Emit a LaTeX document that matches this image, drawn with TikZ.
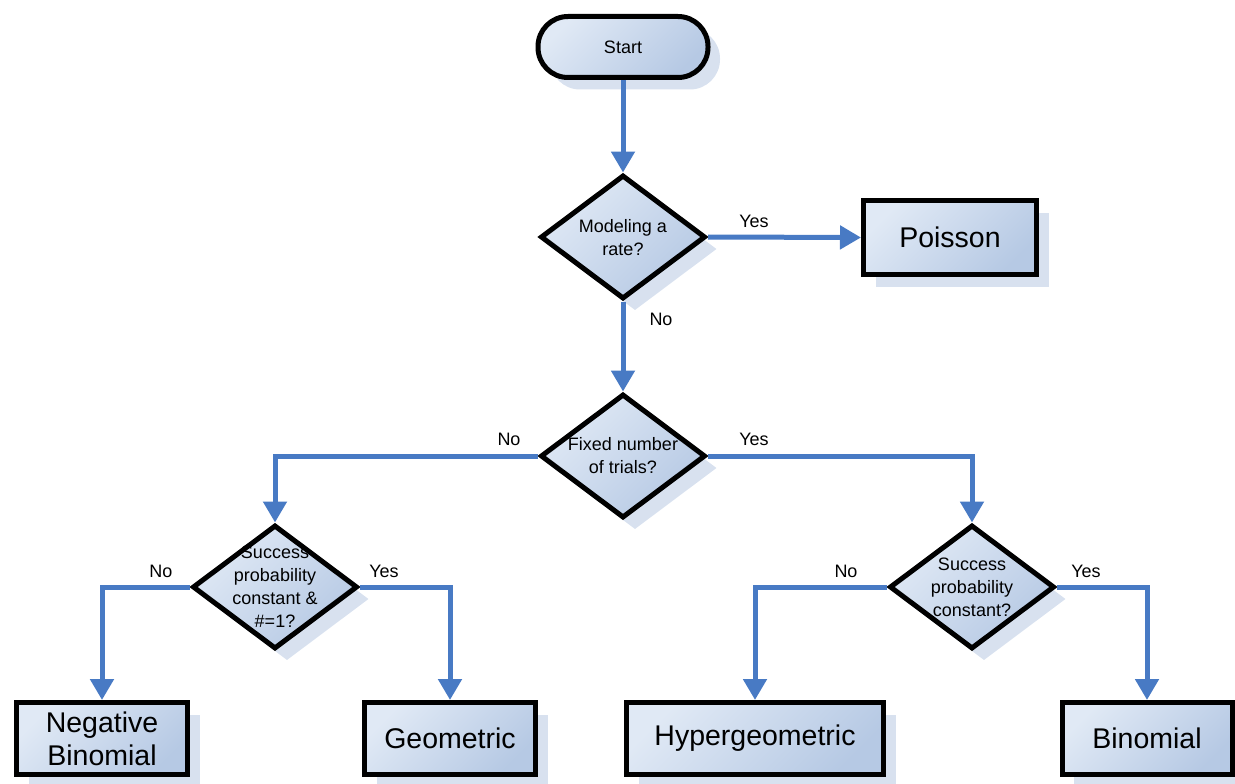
\documentclass[tikz,border=0pt]{standalone}
\usepackage{fontspec}
\setmainfont{Liberation Sans}
\usetikzlibrary{shapes.geometric,shadows,arrows.meta}
\definecolor{connblue}{RGB}{72,122,196}
\definecolor{fillA}{RGB}{224,233,245}
\definecolor{fillB}{RGB}{182,201,228}
\definecolor{shad}{RGB}{216,225,239}
\begin{document}
\begin{tikzpicture}[x=1pt,y=-1pt,
 base/.style={draw=black, line width=5pt, line join=miter, top color=fillA, bottom color=fillB, shading angle=45,
   drop shadow={shadow xshift=12pt, shadow yshift=-12pt, fill=shad, opacity=1}, inner sep=0pt},
 startbox/.style={base, rectangle, rounded corners=30pt, minimum width=170pt, minimum height=61pt, font=\fontsize{18}{20}\selectfont},
 decision/.style={base, diamond, minimum width=165pt, minimum height=124pt},
 dtext/.style={align=center, inner sep=0pt, font=\fontsize{18}{23}\selectfont},
 result/.style={base, rectangle, minimum height=72pt, align=center, font=\fontsize{28.5}{33}\selectfont},
 flow/.style={draw=connblue, line width=5pt, -{Triangle[length=21pt,width=23pt]}},
 lbl/.style={inner sep=0pt, font=\fontsize{18}{20}\selectfont}
]
\useasboundingbox (0,0) rectangle (1235,784);

\node[startbox] (start) at (623,47) {Start};

\node[decision] (d1) at (623,237) {};
\node[dtext] (d1t) at (623,238) {Modeling a\\rate?};

\node[result, minimum width=173pt, minimum height=74pt] (poisson) at (950,237.5) {Poisson};

\node[decision] (d2) at (623,456) {};
\node[dtext] (d2t) at (623,456) {Fixed number\\of trials?};

\node[decision] (d3) at (275,587) {};
\node[dtext] (d3t) at (275,587) {Success\\probability\\constant \&\\\#=1?};

\node[decision] (d4) at (972,587) {};
\node[dtext] (d4t) at (972,587) {Success\\probability\\constant?};

\node[result, minimum width=171pt] (negbin) at (102,738.5) {Negative\\Binomial};
\node[result, minimum width=171pt] (geo) at (450,738.5) {Geometric};
\node[result, minimum width=257pt] (hyper) at (755,738.5) {Hypergeometric};
\node[result, minimum width=170pt] (binom) at (1147,738.5) {Binomial};

\draw[flow] (start.south) -- (d1.north);
\draw[flow] (d1.east) -- (poisson.west);
\draw[flow] (d1.south) -- (d2.north);
\draw[flow] (d2.west) -| (d3.north);
\draw[flow] (d2.east) -| (d4.north);
\draw[flow] (d3.west) -| (negbin.north);
\draw[flow] (d3.east) -| (geo.north);
\draw[flow] (d4.west) -| (hyper.north);
\draw[flow] (d4.east) -| (binom.north);

\node[lbl] (l1) at (754,221) {Yes};
\node[lbl] (l2) at (661,319) {No};
\node[lbl] (l3) at (509,439) {No};
\node[lbl] (l4) at (754,439) {Yes};
\node[lbl] (l5) at (161,571) {No};
\node[lbl] (l6) at (384,571) {Yes};
\node[lbl] (l7) at (846,571) {No};
\node[lbl] (l8) at (1086,571) {Yes};
\end{tikzpicture}
\end{document}
